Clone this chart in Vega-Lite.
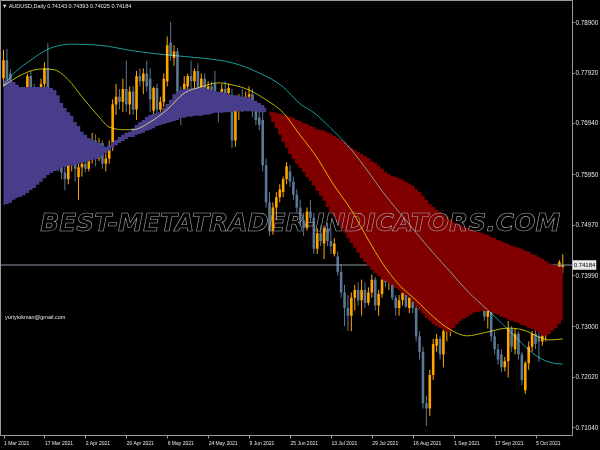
{
  "$schema": "https://vega.github.io/schema/vega-lite/v6.json",
  "width": 572,
  "height": 435,
  "padding": {"left": 0, "top": 0, "right": 28, "bottom": 15},
  "autosize": {"type": "none"},
  "background": "#000000",
  "config": {
    "view": {"stroke": "#9a9a9a", "strokeWidth": 1, "fill": "#000000"},
    "font": "Liberation Sans"
  },
  "datasets": {
    "bars": [
      {"i":0,"o":0.7781,"h":0.7836,"l":0.7765,"c":0.7816,"t":0.7778,"b":0.7535,"z":"up"},
      {"i":1,"o":0.7816,"h":0.7838,"l":0.7762,"c":0.7771,"t":0.7778,"b":0.7537,"z":"up"},
      {"i":2,"o":0.7790,"h":0.7798,"l":0.7738,"c":0.7750,"t":0.7778,"b":0.7539,"z":"up"},
      {"i":3,"o":0.7750,"h":0.7770,"l":0.7690,"c":0.7710,"t":0.7774,"b":0.7545,"z":"up"},
      {"i":4,"o":0.7710,"h":0.7725,"l":0.7675,"c":0.7700,"t":0.7768,"b":0.7549,"z":"up"},
      {"i":5,"o":0.7700,"h":0.7712,"l":0.7622,"c":0.7640,"t":0.7764,"b":0.7551,"z":"up"},
      {"i":6,"o":0.7640,"h":0.7710,"l":0.7635,"c":0.7702,"t":0.7764,"b":0.7554,"z":"up"},
      {"i":7,"o":0.7702,"h":0.7790,"l":0.7695,"c":0.7785,"t":0.7764,"b":0.7558,"z":"up"},
      {"i":8,"o":0.7785,"h":0.7795,"l":0.7745,"c":0.7760,"t":0.7764,"b":0.7564,"z":"up"},
      {"i":9,"o":0.7760,"h":0.7770,"l":0.7720,"c":0.7735,"t":0.7764,"b":0.7568,"z":"up"},
      {"i":10,"o":0.7735,"h":0.7760,"l":0.7718,"c":0.7745,"t":0.7764,"b":0.7574,"z":"up"},
      {"i":11,"o":0.7745,"h":0.7780,"l":0.7730,"c":0.7770,"t":0.7764,"b":0.7580,"z":"up"},
      {"i":12,"o":0.7770,"h":0.7812,"l":0.7740,"c":0.7800,"t":0.7764,"b":0.7587,"z":"up"},
      {"i":13,"o":0.7800,"h":0.7849,"l":0.7740,"c":0.7755,"t":0.7764,"b":0.7593,"z":"up"},
      {"i":14,"o":0.7755,"h":0.7760,"l":0.7700,"c":0.7740,"t":0.7762,"b":0.7597,"z":"up"},
      {"i":15,"o":0.7740,"h":0.7750,"l":0.7700,"c":0.7728,"t":0.7758,"b":0.7601,"z":"up"},
      {"i":16,"o":0.7728,"h":0.7740,"l":0.7600,"c":0.7610,"t":0.7748,"b":0.7603,"z":"up"},
      {"i":17,"o":0.7610,"h":0.7635,"l":0.7585,"c":0.7598,"t":0.7733,"b":0.7607,"z":"up"},
      {"i":18,"o":0.7598,"h":0.7615,"l":0.7563,"c":0.7585,"t":0.7723,"b":0.7609,"z":"up"},
      {"i":19,"o":0.7585,"h":0.7630,"l":0.7575,"c":0.7620,"t":0.7715,"b":0.7611,"z":"up"},
      {"i":20,"o":0.7620,"h":0.7640,"l":0.7600,"c":0.7625,"t":0.7708,"b":0.7611,"z":"up"},
      {"i":21,"o":0.7625,"h":0.7635,"l":0.7580,"c":0.7605,"t":0.7696,"b":0.7613,"z":"up"},
      {"i":22,"o":0.7589,"h":0.7620,"l":0.7545,"c":0.7608,"t":0.7688,"b":0.7615,"z":"up"},
      {"i":23,"o":0.7608,"h":0.7625,"l":0.7590,"c":0.7615,"t":0.7677,"b":0.7617,"z":"up"},
      {"i":24,"o":0.7615,"h":0.7625,"l":0.7598,"c":0.7605,"t":0.7671,"b":0.7618,"z":"up"},
      {"i":25,"o":0.7605,"h":0.7640,"l":0.7600,"c":0.7632,"t":0.7665,"b":0.7620,"z":"up"},
      {"i":26,"o":0.7632,"h":0.7675,"l":0.7615,"c":0.7660,"t":0.7661,"b":0.7622,"z":"up"},
      {"i":27,"o":0.7660,"h":0.7672,"l":0.7610,"c":0.7625,"t":0.7657,"b":0.7624,"z":"up"},
      {"i":28,"o":0.7625,"h":0.7665,"l":0.7620,"c":0.7655,"t":0.7655,"b":0.7626,"z":"up"},
      {"i":29,"o":0.7655,"h":0.7660,"l":0.7605,"c":0.7615,"t":0.7651,"b":0.7630,"z":"up"},
      {"i":30,"o":0.7615,"h":0.7635,"l":0.7600,"c":0.7625,"t":0.7648,"b":0.7636,"z":"up"},
      {"i":31,"o":0.7625,"h":0.7660,"l":0.7615,"c":0.7650,"t":0.7651,"b":0.7640,"z":"up"},
      {"i":32,"o":0.7650,"h":0.7740,"l":0.7640,"c":0.7730,"t":0.7657,"b":0.7646,"z":"up"},
      {"i":33,"o":0.7730,"h":0.7770,"l":0.7710,"c":0.7745,"t":0.7661,"b":0.7651,"z":"up"},
      {"i":34,"o":0.7745,"h":0.7760,"l":0.7720,"c":0.7735,"t":0.7667,"b":0.7655,"z":"up"},
      {"i":35,"o":0.7735,"h":0.7780,"l":0.7715,"c":0.7760,"t":0.7671,"b":0.7659,"z":"up"},
      {"i":36,"o":0.7760,"h":0.7815,"l":0.7715,"c":0.7730,"t":0.7675,"b":0.7663,"z":"up"},
      {"i":37,"o":0.7730,"h":0.7765,"l":0.7710,"c":0.7755,"t":0.7677,"b":0.7667,"z":"up"},
      {"i":38,"o":0.7755,"h":0.7765,"l":0.7710,"c":0.7720,"t":0.7684,"b":0.7667,"z":"up"},
      {"i":39,"o":0.7720,"h":0.7795,"l":0.7700,"c":0.7785,"t":0.7690,"b":0.7671,"z":"up"},
      {"i":40,"o":0.7785,"h":0.7800,"l":0.7765,"c":0.7775,"t":0.7696,"b":0.7673,"z":"up"},
      {"i":41,"o":0.7775,"h":0.7800,"l":0.7750,"c":0.7790,"t":0.7700,"b":0.7675,"z":"up"},
      {"i":42,"o":0.7790,"h":0.7815,"l":0.7755,"c":0.7765,"t":0.7706,"b":0.7679,"z":"up"},
      {"i":43,"o":0.7780,"h":0.7800,"l":0.7715,"c":0.7740,"t":0.7710,"b":0.7681,"z":"up"},
      {"i":44,"o":0.7718,"h":0.7765,"l":0.7700,"c":0.7762,"t":0.7712,"b":0.7684,"z":"up"},
      {"i":45,"o":0.7762,"h":0.7770,"l":0.7710,"c":0.7720,"t":0.7714,"b":0.7688,"z":"up"},
      {"i":46,"o":0.7720,"h":0.7745,"l":0.7700,"c":0.7735,"t":0.7715,"b":0.7690,"z":"up"},
      {"i":47,"o":0.7735,"h":0.7790,"l":0.7725,"c":0.7780,"t":0.7723,"b":0.7692,"z":"up"},
      {"i":48,"o":0.7775,"h":0.7862,"l":0.7765,"c":0.7845,"t":0.7731,"b":0.7694,"z":"up"},
      {"i":49,"o":0.7850,"h":0.7890,"l":0.7815,"c":0.7825,"t":0.7739,"b":0.7696,"z":"up"},
      {"i":50,"o":0.7820,"h":0.7845,"l":0.7805,"c":0.7833,"t":0.7750,"b":0.7698,"z":"up"},
      {"i":51,"o":0.7833,"h":0.7840,"l":0.7740,"c":0.7755,"t":0.7754,"b":0.7700,"z":"up"},
      {"i":52,"o":0.7755,"h":0.7765,"l":0.7690,"c":0.7740,"t":0.7758,"b":0.7704,"z":"up"},
      {"i":53,"o":0.7740,"h":0.7785,"l":0.7725,"c":0.7770,"t":0.7760,"b":0.7704,"z":"up"},
      {"i":54,"o":0.7765,"h":0.7790,"l":0.7750,"c":0.7785,"t":0.7760,"b":0.7706,"z":"up"},
      {"i":55,"o":0.7785,"h":0.7815,"l":0.7760,"c":0.7775,"t":0.7762,"b":0.7706,"z":"up"},
      {"i":56,"o":0.7775,"h":0.7800,"l":0.7730,"c":0.7795,"t":0.7762,"b":0.7708,"z":"up"},
      {"i":57,"o":0.7795,"h":0.7810,"l":0.7745,"c":0.7755,"t":0.7764,"b":0.7708,"z":"up"},
      {"i":58,"o":0.7755,"h":0.7790,"l":0.7740,"c":0.7780,"t":0.7764,"b":0.7708,"z":"up"},
      {"i":59,"o":0.7780,"h":0.7790,"l":0.7730,"c":0.7742,"t":0.7762,"b":0.7710,"z":"up"},
      {"i":60,"o":0.7742,"h":0.7775,"l":0.7730,"c":0.7765,"t":0.7760,"b":0.7710,"z":"up"},
      {"i":61,"o":0.7765,"h":0.7775,"l":0.7720,"c":0.7735,"t":0.7758,"b":0.7712,"z":"up"},
      {"i":62,"o":0.7770,"h":0.7795,"l":0.7720,"c":0.7740,"t":0.7756,"b":0.7714,"z":"up"},
      {"i":63,"o":0.7745,"h":0.7755,"l":0.7695,"c":0.7725,"t":0.7754,"b":0.7714,"z":"up"},
      {"i":64,"o":0.7725,"h":0.7770,"l":0.7715,"c":0.7760,"t":0.7754,"b":0.7714,"z":"up"},
      {"i":65,"o":0.7760,"h":0.7775,"l":0.7740,"c":0.7752,"t":0.7752,"b":0.7715,"z":"up"},
      {"i":66,"o":0.7752,"h":0.7770,"l":0.7730,"c":0.7762,"t":0.7750,"b":0.7715,"z":"up"},
      {"i":67,"o":0.7748,"h":0.7760,"l":0.7645,"c":0.7660,"t":0.7748,"b":0.7715,"z":"up"},
      {"i":68,"o":0.7660,"h":0.7730,"l":0.7648,"c":0.7718,"t":0.7748,"b":0.7717,"z":"up"},
      {"i":69,"o":0.7718,"h":0.7750,"l":0.7700,"c":0.7740,"t":0.7747,"b":0.7717,"z":"up"},
      {"i":70,"o":0.7740,"h":0.7760,"l":0.7715,"c":0.7735,"t":0.7745,"b":0.7717,"z":"up"},
      {"i":71,"o":0.7735,"h":0.7755,"l":0.7720,"c":0.7745,"t":0.7745,"b":0.7717,"z":"up"},
      {"i":72,"o":0.7745,"h":0.7765,"l":0.7735,"c":0.7750,"t":0.7743,"b":0.7717,"z":"up"},
      {"i":73,"o":0.7750,"h":0.7760,"l":0.7705,"c":0.7720,"t":0.7739,"b":0.7717,"z":"up"},
      {"i":74,"o":0.7720,"h":0.7730,"l":0.7690,"c":0.7700,"t":0.7737,"b":0.7717,"z":"up"},
      {"i":75,"o":0.7705,"h":0.7720,"l":0.7680,"c":0.7690,"t":0.7733,"b":0.7715,"z":"up"},
      {"i":76,"o":0.7700,"h":0.7720,"l":0.7600,"c":0.7612,"t":0.7729,"b":0.7715,"z":"up"},
      {"i":77,"o":0.7612,"h":0.7625,"l":0.7530,"c":0.7540,"t":0.7723,"b":0.7715,"z":"up"},
      {"i":78,"o":0.7540,"h":0.7560,"l":0.7475,"c":0.7485,"t":0.7717,"b":0.7708,"z":"dn"},
      {"i":79,"o":0.7485,"h":0.7540,"l":0.7477,"c":0.7530,"t":0.7715,"b":0.7696,"z":"dn"},
      {"i":80,"o":0.7530,"h":0.7560,"l":0.7505,"c":0.7550,"t":0.7714,"b":0.7684,"z":"dn"},
      {"i":81,"o":0.7550,"h":0.7575,"l":0.7540,"c":0.7565,"t":0.7712,"b":0.7671,"z":"dn"},
      {"i":82,"o":0.7560,"h":0.7590,"l":0.7550,"c":0.7585,"t":0.7710,"b":0.7657,"z":"dn"},
      {"i":83,"o":0.7585,"h":0.7618,"l":0.7575,"c":0.7610,"t":0.7708,"b":0.7646,"z":"dn"},
      {"i":84,"o":0.7600,"h":0.7612,"l":0.7570,"c":0.7580,"t":0.7706,"b":0.7634,"z":"dn"},
      {"i":85,"o":0.7580,"h":0.7590,"l":0.7545,"c":0.7555,"t":0.7704,"b":0.7624,"z":"dn"},
      {"i":86,"o":0.7555,"h":0.7565,"l":0.7520,"c":0.7530,"t":0.7700,"b":0.7615,"z":"dn"},
      {"i":87,"o":0.7530,"h":0.7545,"l":0.7495,"c":0.7505,"t":0.7698,"b":0.7607,"z":"dn"},
      {"i":88,"o":0.7505,"h":0.7520,"l":0.7475,"c":0.7490,"t":0.7694,"b":0.7599,"z":"dn"},
      {"i":89,"o":0.7490,"h":0.7530,"l":0.7485,"c":0.7522,"t":0.7692,"b":0.7589,"z":"dn"},
      {"i":90,"o":0.7522,"h":0.7545,"l":0.7500,"c":0.7510,"t":0.7688,"b":0.7582,"z":"dn"},
      {"i":91,"o":0.7510,"h":0.7520,"l":0.7440,"c":0.7450,"t":0.7686,"b":0.7572,"z":"dn"},
      {"i":92,"o":0.7450,"h":0.7490,"l":0.7440,"c":0.7480,"t":0.7682,"b":0.7562,"z":"dn"},
      {"i":93,"o":0.7480,"h":0.7495,"l":0.7455,"c":0.7465,"t":0.7681,"b":0.7553,"z":"dn"},
      {"i":94,"o":0.7460,"h":0.7495,"l":0.7430,"c":0.7490,"t":0.7679,"b":0.7543,"z":"dn"},
      {"i":95,"o":0.7490,"h":0.7500,"l":0.7455,"c":0.7465,"t":0.7675,"b":0.7531,"z":"dn"},
      {"i":96,"o":0.7465,"h":0.7490,"l":0.7440,"c":0.7455,"t":0.7673,"b":0.7521,"z":"dn"},
      {"i":97,"o":0.7440,"h":0.7470,"l":0.7435,"c":0.7460,"t":0.7669,"b":0.7512,"z":"dn"},
      {"i":98,"o":0.7435,"h":0.7445,"l":0.7398,"c":0.7405,"t":0.7665,"b":0.7502,"z":"dn"},
      {"i":99,"o":0.7405,"h":0.7420,"l":0.7355,"c":0.7365,"t":0.7661,"b":0.7490,"z":"dn"},
      {"i":100,"o":0.7365,"h":0.7380,"l":0.7300,"c":0.7335,"t":0.7657,"b":0.7481,"z":"dn"},
      {"i":101,"o":0.7335,"h":0.7360,"l":0.7290,"c":0.7320,"t":0.7651,"b":0.7471,"z":"dn"},
      {"i":102,"o":0.7320,"h":0.7365,"l":0.7290,"c":0.7355,"t":0.7646,"b":0.7461,"z":"dn"},
      {"i":103,"o":0.7355,"h":0.7380,"l":0.7330,"c":0.7370,"t":0.7642,"b":0.7452,"z":"dn"},
      {"i":104,"o":0.7370,"h":0.7385,"l":0.7340,"c":0.7350,"t":0.7638,"b":0.7442,"z":"dn"},
      {"i":105,"o":0.7350,"h":0.7390,"l":0.7320,"c":0.7370,"t":0.7634,"b":0.7432,"z":"dn"},
      {"i":106,"o":0.7370,"h":0.7385,"l":0.7335,"c":0.7345,"t":0.7630,"b":0.7424,"z":"dn"},
      {"i":107,"o":0.7345,"h":0.7375,"l":0.7340,"c":0.7365,"t":0.7626,"b":0.7417,"z":"dn"},
      {"i":108,"o":0.7365,"h":0.7400,"l":0.7355,"c":0.7390,"t":0.7620,"b":0.7409,"z":"dn"},
      {"i":109,"o":0.7390,"h":0.7395,"l":0.7330,"c":0.7340,"t":0.7617,"b":0.7403,"z":"dn"},
      {"i":110,"o":0.7340,"h":0.7370,"l":0.7320,"c":0.7362,"t":0.7611,"b":0.7397,"z":"dn"},
      {"i":111,"o":0.7362,"h":0.7395,"l":0.7355,"c":0.7390,"t":0.7605,"b":0.7391,"z":"dn"},
      {"i":112,"o":0.7390,"h":0.7400,"l":0.7375,"c":0.7385,"t":0.7599,"b":0.7388,"z":"dn"},
      {"i":113,"o":0.7385,"h":0.7405,"l":0.7370,"c":0.7398,"t":0.7595,"b":0.7384,"z":"dn"},
      {"i":114,"o":0.7398,"h":0.7405,"l":0.7350,"c":0.7355,"t":0.7591,"b":0.7380,"z":"dn"},
      {"i":115,"o":0.7355,"h":0.7360,"l":0.7320,"c":0.7335,"t":0.7589,"b":0.7374,"z":"dn"},
      {"i":116,"o":0.7335,"h":0.7360,"l":0.7320,"c":0.7350,"t":0.7587,"b":0.7370,"z":"dn"},
      {"i":117,"o":0.7350,"h":0.7375,"l":0.7340,"c":0.7370,"t":0.7584,"b":0.7364,"z":"dn"},
      {"i":118,"o":0.7370,"h":0.7378,"l":0.7335,"c":0.7338,"t":0.7580,"b":0.7360,"z":"dn"},
      {"i":119,"o":0.7335,"h":0.7372,"l":0.7325,"c":0.7365,"t":0.7576,"b":0.7355,"z":"dn"},
      {"i":120,"o":0.7365,"h":0.7370,"l":0.7325,"c":0.7335,"t":0.7572,"b":0.7347,"z":"dn"},
      {"i":121,"o":0.7335,"h":0.7345,"l":0.7270,"c":0.7280,"t":0.7566,"b":0.7339,"z":"dn"},
      {"i":122,"o":0.7280,"h":0.7290,"l":0.7235,"c":0.7250,"t":0.7560,"b":0.7331,"z":"dn"},
      {"i":123,"o":0.7250,"h":0.7260,"l":0.7140,"c":0.7150,"t":0.7553,"b":0.7324,"z":"dn"},
      {"i":124,"o":0.7150,"h":0.7165,"l":0.7106,"c":0.7140,"t":0.7545,"b":0.7316,"z":"dn"},
      {"i":125,"o":0.7140,"h":0.7215,"l":0.7125,"c":0.7205,"t":0.7537,"b":0.7310,"z":"dn"},
      {"i":126,"o":0.7205,"h":0.7275,"l":0.7195,"c":0.7265,"t":0.7531,"b":0.7304,"z":"dn"},
      {"i":127,"o":0.7262,"h":0.7285,"l":0.7250,"c":0.7275,"t":0.7525,"b":0.7300,"z":"dn"},
      {"i":128,"o":0.7275,"h":0.7280,"l":0.7235,"c":0.7245,"t":0.7521,"b":0.7296,"z":"dn"},
      {"i":129,"o":0.7245,"h":0.7300,"l":0.7220,"c":0.7290,"t":0.7516,"b":0.7293,"z":"dn"},
      {"i":130,"o":0.7290,"h":0.7320,"l":0.7270,"c":0.7305,"t":0.7512,"b":0.7289,"z":"dn"},
      {"i":131,"o":0.7305,"h":0.7325,"l":0.7280,"c":0.7315,"t":0.7506,"b":0.7289,"z":"dn"},
      {"i":132,"o":0.7315,"h":0.7360,"l":0.7300,"c":0.7345,"t":0.7502,"b":0.7296,"z":"dn"},
      {"i":133,"o":0.7345,"h":0.7410,"l":0.7335,"c":0.7400,"t":0.7498,"b":0.7304,"z":"dn"},
      {"i":134,"o":0.7400,"h":0.7478,"l":0.7390,"c":0.7440,"t":0.7496,"b":0.7310,"z":"dn"},
      {"i":135,"o":0.7440,"h":0.7450,"l":0.7420,"c":0.7430,"t":0.7492,"b":0.7314,"z":"dn"},
      {"i":136,"o":0.7430,"h":0.7435,"l":0.7375,"c":0.7385,"t":0.7490,"b":0.7318,"z":"dn"},
      {"i":137,"o":0.7385,"h":0.7395,"l":0.7365,"c":0.7380,"t":0.7487,"b":0.7322,"z":"dn"},
      {"i":138,"o":0.7380,"h":0.7385,"l":0.7340,"c":0.7365,"t":0.7485,"b":0.7326,"z":"dn"},
      {"i":139,"o":0.7365,"h":0.7380,"l":0.7345,"c":0.7355,"t":0.7483,"b":0.7327,"z":"dn"},
      {"i":140,"o":0.7355,"h":0.7370,"l":0.7330,"c":0.7360,"t":0.7481,"b":0.7329,"z":"dn"},
      {"i":141,"o":0.7340,"h":0.7370,"l":0.7310,"c":0.7318,"t":0.7479,"b":0.7329,"z":"dn"},
      {"i":142,"o":0.7318,"h":0.7340,"l":0.7295,"c":0.7332,"t":0.7477,"b":0.7329,"z":"dn"},
      {"i":143,"o":0.7332,"h":0.7335,"l":0.7270,"c":0.7280,"t":0.7473,"b":0.7327,"z":"dn"},
      {"i":144,"o":0.7280,"h":0.7290,"l":0.7245,"c":0.7255,"t":0.7471,"b":0.7324,"z":"dn"},
      {"i":145,"o":0.7255,"h":0.7265,"l":0.7225,"c":0.7235,"t":0.7467,"b":0.7322,"z":"dn"},
      {"i":146,"o":0.7245,"h":0.7255,"l":0.7210,"c":0.7220,"t":0.7465,"b":0.7318,"z":"dn"},
      {"i":147,"o":0.7220,"h":0.7240,"l":0.7212,"c":0.7232,"t":0.7461,"b":0.7316,"z":"dn"},
      {"i":148,"o":0.7232,"h":0.7310,"l":0.7200,"c":0.7295,"t":0.7459,"b":0.7312,"z":"dn"},
      {"i":149,"o":0.7295,"h":0.7300,"l":0.7250,"c":0.7260,"t":0.7456,"b":0.7310,"z":"dn"},
      {"i":150,"o":0.7255,"h":0.7295,"l":0.7245,"c":0.7285,"t":0.7454,"b":0.7308,"z":"dn"},
      {"i":151,"o":0.7285,"h":0.7290,"l":0.7235,"c":0.7245,"t":0.7452,"b":0.7306,"z":"dn"},
      {"i":152,"o":0.7245,"h":0.7250,"l":0.7185,"c":0.7195,"t":0.7450,"b":0.7302,"z":"dn"},
      {"i":153,"o":0.7175,"h":0.7232,"l":0.7168,"c":0.7228,"t":0.7446,"b":0.7300,"z":"dn"},
      {"i":154,"o":0.7228,"h":0.7270,"l":0.7215,"c":0.7260,"t":0.7444,"b":0.7296,"z":"dn"},
      {"i":155,"o":0.7260,"h":0.7290,"l":0.7250,"c":0.7285,"t":0.7440,"b":0.7294,"z":"dn"},
      {"i":156,"o":0.7285,"h":0.7292,"l":0.7255,"c":0.7265,"t":0.7438,"b":0.7291,"z":"dn"},
      {"i":157,"o":0.7280,"h":0.7292,"l":0.7230,"c":0.7270,"t":0.7434,"b":0.7287,"z":"dn"},
      {"i":158,"o":0.7270,"h":0.7290,"l":0.7262,"c":0.7282,"t":0.7430,"b":0.7281,"z":"dn"},
      {"i":159,"o":0.7282,"h":0.7320,"l":0.7270,"c":0.7305,"t":0.7426,"b":0.7281,"z":"dn"},
      {"i":160,"o":0.7305,"h":0.7330,"l":0.7285,"c":0.7320,"t":0.7422,"b":0.7285,"z":"dn"},
      {"i":161,"o":0.7320,"h":0.7345,"l":0.7300,"c":0.7335,"t":0.7419,"b":0.7291,"z":"dn"},
      {"i":162,"o":0.7335,"h":0.7400,"l":0.7325,"c":0.7390,"t":0.7417,"b":0.7296,"z":"dn"},
      {"i":163,"o":0.7390,"h":0.7428,"l":0.7380,"c":0.7424,"t":0.7415,"b":0.7304,"z":"dn"},
      {"i":164,"o":0.74143,"h":0.74393,"l":0.74025,"c":0.74184,"t":0.7413,"b":0.7312,"z":"dn"}
    ],
    "ma": [
      {"i":0,"v":0.7766,"k":"slow"},{"i":2,"v":0.7783,"k":"slow"},{"i":8,"v":0.7816,"k":"slow"},
      {"i":14,"v":0.7840,"k":"slow"},{"i":20,"v":0.7847,"k":"slow"},{"i":28,"v":0.7845,"k":"slow"},
      {"i":38,"v":0.7834,"k":"slow"},{"i":48,"v":0.7826,"k":"slow"},{"i":58,"v":0.7820,"k":"slow"},
      {"i":67,"v":0.7811,"k":"slow"},{"i":75,"v":0.7791,"k":"slow"},{"i":82,"v":0.7764,"k":"slow"},
      {"i":87,"v":0.7731,"k":"slow"},{"i":91,"v":0.7714,"k":"slow"},{"i":97,"v":0.7677,"k":"slow"},
      {"i":102,"v":0.7642,"k":"slow"},{"i":107,"v":0.7599,"k":"slow"},{"i":111,"v":0.7562,"k":"slow"},
      {"i":116,"v":0.7521,"k":"slow"},{"i":121,"v":0.7481,"k":"slow"},{"i":126,"v":0.7442,"k":"slow"},
      {"i":131,"v":0.7405,"k":"slow"},{"i":136,"v":0.7368,"k":"slow"},{"i":142,"v":0.7331,"k":"slow"},
      {"i":146,"v":0.7306,"k":"slow"},{"i":151,"v":0.7273,"k":"slow"},{"i":155,"v":0.7248,"k":"slow"},
      {"i":160,"v":0.7230,"k":"slow"},{"i":164,"v":0.7226,"k":"slow"},
      {"i":0,"v":0.7766,"k":"fast"},{"i":4,"v":0.7783,"k":"fast"},{"i":9,"v":0.7797,"k":"fast"},
      {"i":12,"v":0.7799,"k":"fast"},{"i":15,"v":0.7797,"k":"fast"},{"i":19,"v":0.7778,"k":"fast"},
      {"i":23,"v":0.7745,"k":"fast"},{"i":28,"v":0.7706,"k":"fast"},{"i":31,"v":0.7686,"k":"fast"},
      {"i":35,"v":0.7681,"k":"fast"},{"i":38,"v":0.7681,"k":"fast"},{"i":43,"v":0.7696,"k":"fast"},
      {"i":48,"v":0.7720,"k":"fast"},{"i":53,"v":0.7752,"k":"fast"},{"i":58,"v":0.7764,"k":"fast"},
      {"i":63,"v":0.7772,"k":"fast"},{"i":67,"v":0.7768,"k":"fast"},{"i":72,"v":0.7758,"k":"fast"},
      {"i":77,"v":0.7739,"k":"fast"},{"i":82,"v":0.7714,"k":"fast"},{"i":87,"v":0.7670,"k":"fast"},
      {"i":91,"v":0.7636,"k":"fast"},{"i":97,"v":0.7572,"k":"fast"},{"i":102,"v":0.7525,"k":"fast"},
      {"i":107,"v":0.7467,"k":"fast"},{"i":111,"v":0.7423,"k":"fast"},{"i":116,"v":0.7380,"k":"fast"},
      {"i":121,"v":0.7350,"k":"fast"},{"i":126,"v":0.7318,"k":"fast"},{"i":131,"v":0.7293,"k":"fast"},
      {"i":136,"v":0.7281,"k":"fast"},{"i":141,"v":0.7287,"k":"fast"},{"i":148,"v":0.7296,"k":"fast"},
      {"i":152,"v":0.7293,"k":"fast"},{"i":157,"v":0.7279,"k":"fast"},{"i":160,"v":0.7273,"k":"fast"},
      {"i":164,"v":0.7275,"k":"fast"}
    ],
    "notes": [
      {"i": 87, "p": 0.7500, "txt": "BEST-METATRADER-INDICATORS.COM", "kind": "mark"},
      {"i": 0.44, "p": 0.7318, "txt": "yuriytokman@gmail.com", "kind": "mail"},
      {"i": -0.44, "p": 0.7921, "txt": "▼ AUDUSD,Daily  0.74143 0.74393 0.74025 0.74184", "kind": "head"},
      {"i": 170.37, "p": 0.74184, "txt": "0.74184", "kind": "last"}
    ]
  },
  "layer": [
    {
      "data": {"name": "bars"},
      "mark": {"type": "rule", "strokeWidth": 1},
      "encoding": {
        "x": {
          "field": "i", "type": "quantitative", "title": null,
          "scale": {"domain": [-1.03, 166.7], "nice": false, "zero": false, "padding": 0},
          "axis": {
            "orient": "bottom", "domain": false, "grid": false,
            "values": [0, 12, 24, 36, 48, 60, 72, 84, 96, 108, 120, 132, 144, 156],
            "labelExpr": "['1 Mar 2021','17 Mar 2021','2 Apr 2021','20 Apr 2021','6 May 2021','24 May 2021','9 Jun 2021','25 Jun 2021','13 Jul 2021','29 Jul 2021','16 Aug 2021','1 Sep 2021','17 Sep 2021','5 Oct 2021'][round(datum.value/12)]",
            "labelAlign": "left", "labelBaseline": "top", "labelFontSize": 5, "labelColor": "#e6e6e6",
            "labelFont": "Liberation Sans", "labelPadding": 2, "labelOverlap": false, "labelFlush": false,
            "tickSize": 3, "tickColor": "#9a9a9a", "tickWidth": 1
          }
        },
        "y": {
          "field": "l", "type": "quantitative", "title": null,
          "scale": {"domain": [0.70885, 0.79327], "nice": false, "zero": false, "padding": 0},
          "axis": {
            "orient": "right", "domain": false, "grid": false,
            "values": [0.789, 0.7841, 0.7792, 0.7743, 0.7694, 0.7644, 0.7595, 0.7546, 0.7497, 0.7448, 0.7399, 0.7349, 0.73, 0.7251, 0.7202, 0.7153, 0.7104],
            "format": ".5f", "labelFontSize": 6.3, "labelColor": "#e6e6e6", "labelFont": "Liberation Sans",
            "labelPadding": 1, "labelOverlap": false, "labelFlush": false, "labelBaseline": "middle",
            "tickSize": 2, "tickColor": "#9a9a9a", "tickWidth": 1
          }
        },
        "y2": {"field": "h"},
        "color": {"condition": {"test": "datum.c >= datum.o", "value": "#ffa500"}, "value": "#5b7793"}
      }
    },
    {
      "data": {"name": "bars"},
      "mark": {"type": "bar", "width": 2.6, "opacity": 1},
      "encoding": {
        "x": {"field": "i", "type": "quantitative", "title": null},
        "y": {"field": "o", "type": "quantitative", "title": null},
        "y2": {"field": "c"},
        "color": {"condition": {"test": "datum.c >= datum.o", "value": "#ffa500"}, "value": "#5b7793"}
      }
    },
    {
      "data": {"name": "notes"},
      "transform": [{"filter": "datum.kind == 'last'"}],
      "mark": {"type": "rule", "color": "#8f99a6", "strokeWidth": 1},
      "encoding": {"y": {"field": "p", "type": "quantitative", "title": null}}
    },
    {
      "data": {"name": "bars"},
      "transform": [{"filter": "datum.z == 'up'"}],
      "mark": {"type": "area", "interpolate": "step", "color": "#483d8b", "opacity": 1},
      "encoding": {
        "x": {"field": "i", "type": "quantitative", "title": null},
        "y": {"field": "t", "type": "quantitative", "title": null},
        "y2": {"field": "b"}
      }
    },
    {
      "data": {"name": "bars"},
      "transform": [{"filter": "datum.z == 'dn'"}],
      "mark": {"type": "area", "interpolate": "step", "color": "#800000", "opacity": 1},
      "encoding": {
        "x": {"field": "i", "type": "quantitative", "title": null},
        "y": {"field": "t", "type": "quantitative", "title": null},
        "y2": {"field": "b"}
      }
    },
    {
      "data": {"name": "ma"},
      "mark": {"type": "line", "interpolate": "monotone", "strokeWidth": 1, "blend": "screen"},
      "encoding": {
        "x": {"field": "i", "type": "quantitative", "title": null},
        "y": {"field": "v", "type": "quantitative", "title": null},
        "color": {"field": "k", "type": "nominal", "scale": {"domain": ["slow", "fast"], "range": ["#1a9c9c", "#b8b400"]}, "legend": null}
      }
    },
    {
      "data": {"name": "notes"},
      "transform": [{"filter": "datum.kind == 'mark'"}],
      "mark": {"type": "text", "font": "DejaVu Sans", "fontSize": 25, "fontStyle": "italic", "fontWeight": "bold", "fill": "#000000", "fillOpacity": 0.01, "stroke": "#aaaaaa", "strokeWidth": 0.6, "align": "center", "baseline": "middle"},
      "encoding": {
        "x": {"field": "i", "type": "quantitative", "title": null},
        "y": {"field": "p", "type": "quantitative", "title": null},
        "text": {"field": "txt"}
      }
    },
    {
      "data": {"name": "notes"},
      "transform": [{"filter": "datum.kind == 'mail' || datum.kind == 'head'"}],
      "mark": {"type": "text", "fontSize": 5.5, "fill": "#e6e6e6", "align": "left", "baseline": "middle"},
      "encoding": {
        "x": {"field": "i", "type": "quantitative", "title": null},
        "y": {"field": "p", "type": "quantitative", "title": null},
        "text": {"field": "txt"}
      }
    },
    {
      "data": {"name": "notes"},
      "transform": [{"filter": "datum.kind == 'last'"}],
      "mark": {"type": "point", "shape": "M-1,-0.39H1V0.39H-1Z", "size": 529, "filled": true, "fill": "#e8e8e8", "opacity": 1, "stroke": "#ffffff", "strokeWidth": 0.5},
      "encoding": {
        "x": {"field": "i", "type": "quantitative", "title": null},
        "y": {"field": "p", "type": "quantitative", "title": null}
      }
    },
    {
      "data": {"name": "notes"},
      "transform": [{"filter": "datum.kind == 'last'"}],
      "mark": {"type": "text", "fontSize": 6, "fill": "#000000", "align": "center", "baseline": "middle"},
      "encoding": {
        "x": {"field": "i", "type": "quantitative", "title": null},
        "y": {"field": "p", "type": "quantitative", "title": null},
        "text": {"field": "txt"}
      }
    }
  ]
}
